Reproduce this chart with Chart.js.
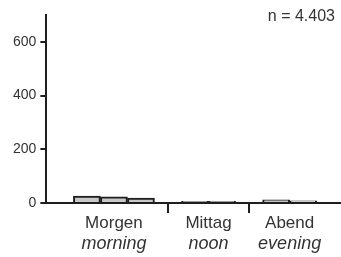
<!DOCTYPE html>
<html>
<head>
<meta charset="utf-8">
<script src="https://cdn.jsdelivr.net/npm/chart.js@4"></script>
<style>
html,body{margin:0;padding:0;background:#fff;}
canvas{display:block;}
</style>
</head>
<body>
<canvas id="c" width="341" height="257"></canvas>
<script>
// ---- data ----
const categories = ['Morgen', 'Mittag', 'Abend'];
const categoriesEn = ['morning', 'noon', 'evening'];
const morgenValues = [26, 23, 18];
const mittagValues = [6, 6];
const abendValues = [12, 8];
const yTickValues = [0, 200, 400, 600];
const yMax = 700;
const sampleLabel = 'n = 4.403';

// ---- build slots (bars in a group are adjacent, one empty slot between groups) ----
const groups = [morgenValues, mittagValues, abendValues];
const barData = [];
const groupCenters = [];
const separators = [];
let pos = 1;
groups.forEach((vals, gi) => {
  const start = pos;
  vals.forEach(v => { barData.push({x: pos, y: v}); pos++; });
  groupCenters.push((start + pos - 1) / 2);
  if (gi < groups.length - 1) { separators.push(pos); pos++; }
});

const FONT = "'Liberation Sans', Arial, Helvetica, sans-serif";
const INK = '#1e1e1e';
const TXT = '#333';

const nLabelPlugin = {
  id: 'nLabel',
  afterDraw(chart) {
    const ctx = chart.ctx;
    ctx.save();
    ctx.font = '16px ' + FONT;
    ctx.fillStyle = TXT;
    ctx.textAlign = 'right';
    ctx.textBaseline = 'middle';
    ctx.fillText(sampleLabel, chart.chartArea.right - 6, 17);
    ctx.restore();
  }
};

const baseX = {type: 'linear', position: 'bottom', min: -0.5, max: 10.4, offset: false};

new Chart(document.getElementById('c'), {
  type: 'bar',
  data: {
    datasets: [{
      data: barData,
      backgroundColor: '#c8c8c8',
      borderColor: INK,
      borderWidth: 2,
      barPercentage: 1,
      categoryPercentage: 1,
      xAxisID: 'x',
      yAxisID: 'y'
    }]
  },
  options: {
    responsive: false,
    animation: false,
    layout: {padding: {top: 15, left: 9, right: 0, bottom: 2}},
    plugins: {legend: {display: false}, tooltip: {enabled: false}},
    scales: {
      x: Object.assign({}, baseX, {
        afterBuildTicks: s => { s.ticks = separators.map(v => ({value: v})); },
        ticks: {display: false},
        grid: {offset: false, drawOnChartArea: false, drawTicks: true, tickLength: 10, color: INK, lineWidth: 2},
        border: {display: true, color: INK, width: 2}
      }),
      xl1: Object.assign({}, baseX, {
        afterBuildTicks: s => { s.ticks = groupCenters.map(v => ({value: v})); },
        ticks: {
          padding: 0, autoSkip: false, maxRotation: 0,
          color: TXT, font: {family: FONT, size: 17},
          callback: (v, i) => categories[i]
        },
        grid: {offset: false, display: false, drawTicks: false},
        border: {display: false}
      }),
      xl2: Object.assign({}, baseX, {
        afterBuildTicks: s => { s.ticks = groupCenters.map(v => ({value: v})); },
        ticks: {
          padding: 0, autoSkip: false, maxRotation: 0,
          color: TXT, font: {family: FONT, size: 18, style: 'italic'},
          callback: (v, i) => categoriesEn[i]
        },
        grid: {offset: false, display: false, drawTicks: false},
        border: {display: false}
      }),
      y: {
        type: 'linear', position: 'left', min: 0, max: yMax,
        afterBuildTicks: s => { s.ticks = yTickValues.map(v => ({value: v})); },
        ticks: {color: TXT, font: {family: FONT, size: 14}, padding: 4},
        grid: {drawOnChartArea: false, drawTicks: true, tickLength: 6, color: INK, lineWidth: 2},
        border: {display: true, color: INK, width: 2}
      }
    }
  },
  plugins: [nLabelPlugin]
});
</script>
</body>
</html>
